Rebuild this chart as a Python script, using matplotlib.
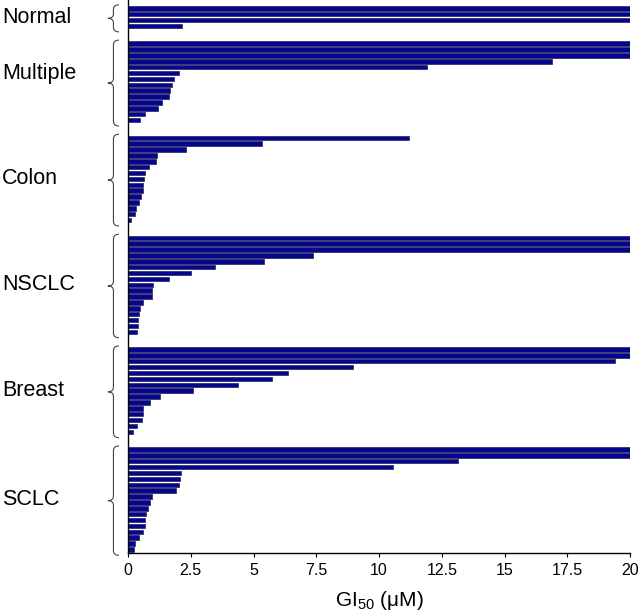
import matplotlib
matplotlib.use("Agg")
import matplotlib.pyplot as plt
from matplotlib.path import Path
from matplotlib.patches import PathPatch
from matplotlib.transforms import blended_transform_factory

plt.rcParams["font.family"] = ["Liberation Sans", "DejaVu Sans"]
plt.rcParams["mathtext.default"] = "regular"

# GI50 values (uM) per panel, top to bottom; 20 = at or above the top of the scale
groups = ["Normal", "Multiple", "Colon", "NSCLC", "Breast", "SCLC"]
normal = [20, 20, 20, 2.14]
multiple = [20, 20, 20, 16.9, 11.9, 2.05, 1.85, 1.77, 1.67, 1.62, 1.34, 1.21, 0.68, 0.48]
colon = [11.2, 5.35, 2.32, 1.17, 1.12, 0.84, 0.66, 0.64, 0.60, 0.60, 0.53, 0.44, 0.31, 0.28, 0.12]
nsclc = [20, 20, 20, 7.38, 5.43, 3.47, 2.52, 1.62, 1.01, 0.97, 0.94, 0.61, 0.46, 0.44,
         0.41, 0.41, 0.37]
breast = [20, 20, 19.4, 8.98, 6.39, 5.75, 4.39, 2.59, 1.27, 0.88, 0.61, 0.58, 0.56, 0.37, 0.21]
sclc = [20, 20, 13.15, 10.56, 2.10, 2.07, 2.02, 1.90, 0.96, 0.89, 0.78, 0.73, 0.68, 0.66,
        0.61, 0.44, 0.28, 0.25]
series = [normal, multiple, colon, nsclc, breast, sclc]

xticks = [0, 2.5, 5, 7.5, 10, 12.5, 15, 17.5, 20]

GAP = 2          # empty bar slots between panels
BAR_COLOR = "#06068c"
EDGE_COLOR = "#22225e"

fig = plt.figure(figsize=(6.38, 6.11), dpi=100)
ax = fig.add_axes([128 / 638, 58 / 611, 502 / 638, 553 / 611])


def brace(ax, y0, y1, x_right=-0.018, width=0.022):
    """Curly brace opening to the right, spanning data y0..y1 (axis-fraction x)."""
    xm = x_right - width * 0.5
    xl = x_right - width
    ym = (y0 + y1) / 2
    c = 0.8
    verts = [
        (x_right, y0), (xm, y0), (xm, y0 + c),
        (xm, ym - c),
        (xm, ym), (xl, ym),
        (xm, ym), (xm, ym + c),
        (xm, y1 - c),
        (xm, y1), (x_right, y1),
    ]
    codes = [Path.MOVETO, Path.CURVE3, Path.CURVE3,
             Path.LINETO,
             Path.CURVE3, Path.CURVE3,
             Path.CURVE3, Path.CURVE3,
             Path.LINETO,
             Path.CURVE3, Path.CURVE3]
    tr = blended_transform_factory(ax.transAxes, ax.transData)
    ax.add_patch(PathPatch(Path(verts, codes), transform=tr, fill=False,
                           edgecolor="#444444", lw=0.8, clip_on=False))


label_tr = blended_transform_factory(fig.transFigure, ax.transData)
label_shift = {"Multiple": -1.4}

pos = 0
for name, vals in zip(groups, series):
    ys = list(range(pos, pos + len(vals)))
    ax.barh(ys, vals, height=0.76, color=BAR_COLOR, edgecolor=EDGE_COLOR, linewidth=0.5)
    brace(ax, ys[0] - 0.6, ys[-1] + 1.0)
    yc = (ys[0] + ys[-1]) / 2 + label_shift.get(name, 0)
    ax.text(2 / 638, yc, name, transform=label_tr, ha="left", va="center", fontsize=15.5)
    pos += len(vals) + GAP

last = pos - GAP - 1
ax.set_ylim(last + 0.6, -1.42)
ax.set_xlim(0, 20)
ax.set_yticks([])
ax.set_xticks(xticks)
ax.set_xticklabels([f"{v:g}" for v in xticks], fontsize=11.5)
ax.tick_params(axis="x", direction="out", length=3, width=0.8, pad=4)
ax.spines[["top", "right"]].set_visible(False)
ax.spines["left"].set_linewidth(1.0)
ax.spines["bottom"].set_linewidth(1.0)
ax.set_xlabel("GI$_{50}$ (μM)", fontsize=15, labelpad=8)

fig.savefig("out.png", dpi=100)
